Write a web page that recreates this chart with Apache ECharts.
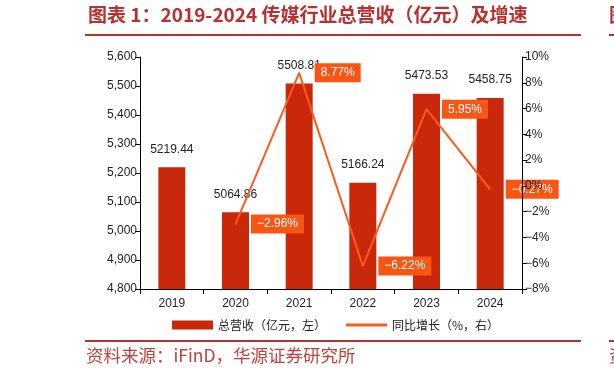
<!DOCTYPE html>
<html>
<head>
<meta charset="utf-8">
<script src="https://cdn.jsdelivr.net/npm/echarts@6/dist/echarts.min.js"></script>
<style>
html,body{margin:0;padding:0;background:#fff;}
#chart{width:614px;height:379px;}
</style>
</head>
<body>
<div id="chart"></div>
<script>
const categories = ['2019', '2020', '2021', '2022', '2023', '2024'];
const revenue = [5219.44, 5064.86, 5508.81, 5166.24, 5473.53, 5458.75];
const growth = [null, -2.96, 8.77, -6.22, 5.95, -0.27];
const revenueName = '总营收（亿元，左）';
const growthName = '同比增长（%，右）';
const titleText = '图表 1：2019-2024 传媒行业总营收（亿元）及增速';
const sourceText = '资料来源：iFinD，华源证券研究所';

const BAR = '#c9280b';
const LINE = '#fd5a1c';
const LABELBG = '#fb5515';
const RED = '#b8302f';
const FONT = '"Liberation Sans", Arial, sans-serif';
const CJK = '"Noto Sans CJK SC", sans-serif';
const minus = s => String(s).replace('-', '\u2212');

const chart = echarts.init(document.getElementById('chart'), null, {renderer: 'canvas'});
chart.setOption({
  animation: false,
  backgroundColor: '#fff',
  textStyle: {fontFamily: FONT},
  grid: {left: 140, right: 92, top: 57, bottom: 90, containLabel: false},
  graphic: [
    {type: 'text', left: 88, top: 5, style: {text: titleText, fill: RED, font: 'bold 19px ' + CJK}},
    {type: 'line', shape: {x1: 85, y1: 35, x2: 581, y2: 35}, style: {stroke: RED, lineWidth: 2}},
    {type: 'line', shape: {x1: 609, y1: 35, x2: 614, y2: 35}, style: {stroke: RED, lineWidth: 2}},
    {type: 'text', x: 609, y: 5, style: {text: '图', fill: RED, font: 'bold 19px ' + CJK}},
    {type: 'line', shape: {x1: 85, y1: 341, x2: 581, y2: 341}, style: {stroke: RED, lineWidth: 2}},
    {type: 'line', shape: {x1: 609, y1: 341, x2: 614, y2: 341}, style: {stroke: RED, lineWidth: 2}},
    {type: 'text', left: 86, top: 347, style: {text: sourceText, fill: '#c0403c', font: '17.5px ' + CJK}},
    {type: 'text', x: 609, y: 347, style: {text: '资', fill: '#c0403c', font: '17.5px ' + CJK}}
  ],
  legend: [
    {
      data: [revenueName], left: 172, top: 319, padding: 0, itemWidth: 41, itemHeight: 9,
      icon: 'rect',
      textStyle: {fontSize: 12, color: '#222', fontFamily: CJK}
    },
    {
      data: [growthName], left: 346, top: 319, padding: 0, itemWidth: 41, itemHeight: 3,
      icon: 'rect',
      textStyle: {fontSize: 12, color: '#222', fontFamily: CJK}
    }
  ],
  xAxis: {
    type: 'category',
    data: categories,
    boundaryGap: true,
    axisLine: {onZero: false, lineStyle: {color: '#000', width: 1}},
    axisTick: {show: true, length: 5, lineStyle: {color: '#000'}},
    axisLabel: {color: '#222', fontSize: 12, margin: 9, fontFamily: FONT}
  },
  yAxis: [
    {
      type: 'value', min: 4800, max: 5600, interval: 100, zlevel: 1,
      axisLine: {show: true, onZero: false, lineStyle: {color: '#000'}},
      axisTick: {show: true, length: 5, lineStyle: {color: '#000'}},
      splitLine: {show: false},
      axisLabel: {color: '#222', fontSize: 12, margin: 3, fontFamily: FONT,
        formatter: v => v.toLocaleString('en-US')}
    },
    {
      type: 'value', min: -8, max: 10, interval: 2, position: 'right', zlevel: 1,
      axisLine: {show: true, onZero: false, lineStyle: {color: '#000'}},
      axisTick: {show: true, length: 5, lineStyle: {color: '#000'}},
      splitLine: {show: false},
      axisLabel: {color: '#222', fontSize: 12, margin: 3, fontFamily: FONT,
        formatter: v => minus(v) + '%'}
    }
  ],
  series: [
    {
      name: revenueName, type: 'bar', data: revenue, yAxisIndex: 0,
      barWidth: 27, itemStyle: {color: BAR}, z: 2,
      label: {show: true, position: 'top', distance: 12, color: '#222', fontSize: 12, fontFamily: FONT,
        formatter: p => p.value.toFixed(2)}
    },
    {
      name: growthName, type: 'line', data: growth, yAxisIndex: 1, z: 3,
      symbol: 'circle', symbolSize: 1, showSymbol: true,
      lineStyle: {color: LINE, width: 2}, itemStyle: {color: LINE},
      label: {show: true, position: 'right', distance: 15, color: '#fff', fontSize: 12, fontFamily: FONT,
        backgroundColor: LABELBG, padding: [3, 6, 2, 6], lineHeight: 14,
        formatter: p => minus(p.value.toFixed(2)) + '%'}
    }
  ]
});
</script>
</body>
</html>
